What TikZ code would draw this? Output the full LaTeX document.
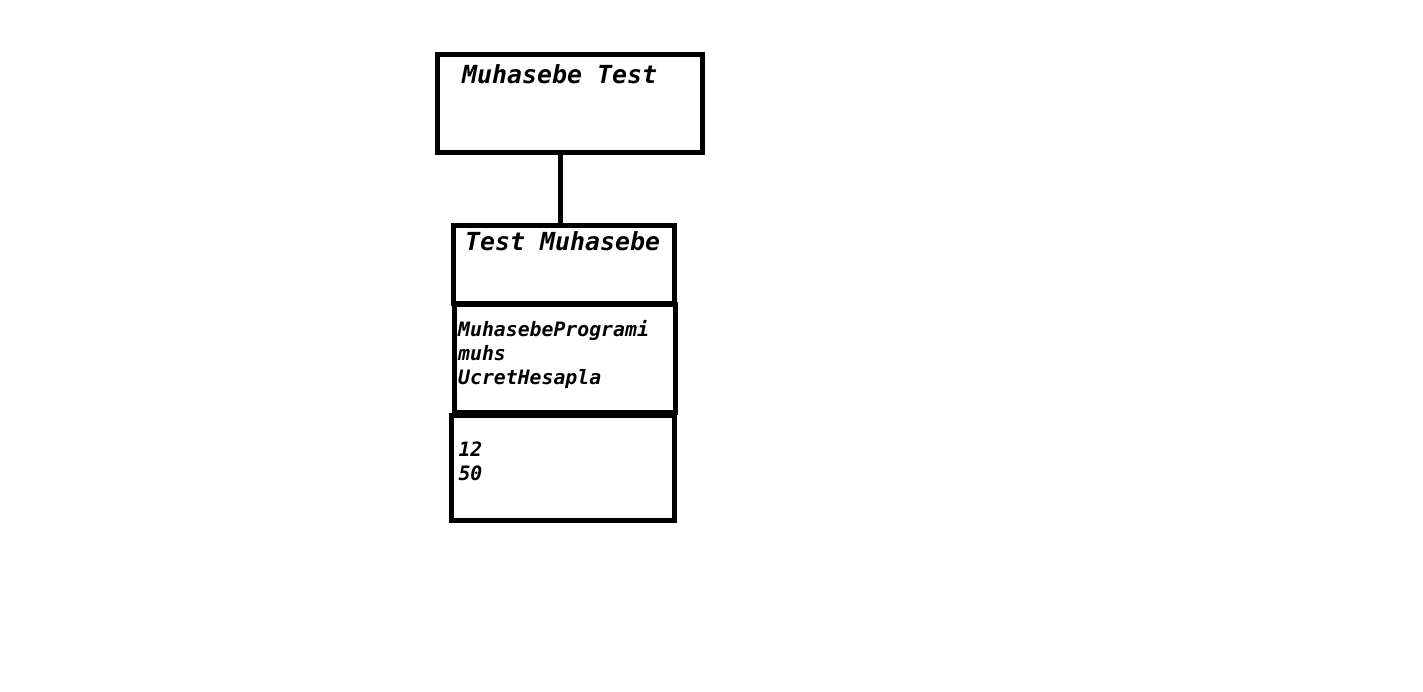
\documentclass[tikz,border=0pt]{standalone}
\usepackage{fontspec}
\setmonofont{DejaVu Sans Mono}
\usetikzlibrary{positioning}

\tikzset{
  kutu/.style = {draw, rectangle, line width = 5pt, outer sep = 0pt, inner sep = 0pt},
  baglanti/.style = {line width = 5pt},
  baslik/.style = {anchor = base west, inner sep = 0pt,
    font = \ttfamily\bfseries\itshape\fontsize{24.9}{30}\selectfont},
  uye/.style = {anchor = base west, inner sep = 0pt, align = left,
    font = \ttfamily\bfseries\itshape\fontsize{19.8}{24.2}\selectfont}
}

\begin{document}
\begin{tikzpicture}[x = 1pt, y = -1pt]
\useasboundingbox (0, 0) rectangle (1423, 691);

% ust sinif
\node [kutu, minimum width = 265pt, minimum height = 98pt] (ust) at (569.5, 103) {};
\node [baslik] (ustad) at (462, 83.5) {Muhasebe Test};

% alt sinif: ad, alanlar, degerler
\node [kutu, minimum width = 221.5pt, minimum height = 78pt] (test) at (563.75, 264.5) {};
\node [kutu, minimum width = 221pt, minimum height = 108.5pt] (alan) at (564.5, 358.25) {};
\node [kutu, minimum width = 223pt, minimum height = 104.5pt] (deger) at (563, 467.75) {};
\node [baslik] (testad) at (465, 250) {Test Muhasebe};
% base = son satir
\node [uye] (alanlar) at (458, 384.7) {MuhasebeProgrami\\muhs\\UcretHesapla};
\node [uye] (degerler) at (458.3, 480.7) {12\\50};

\path (test.north) ++(-3, 0) coordinate (bag);
\draw [baglanti] (bag) -- (bag |- ust.south);
\end{tikzpicture}
\end{document}
